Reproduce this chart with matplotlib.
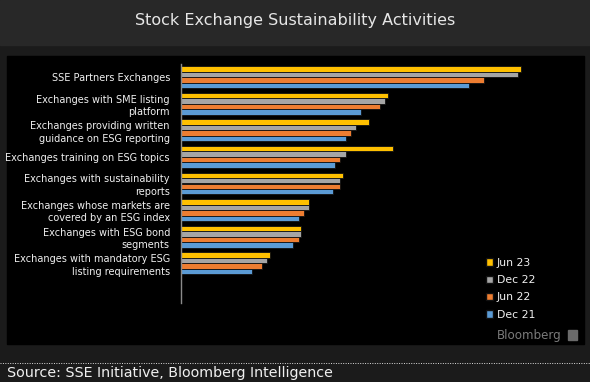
import matplotlib
matplotlib.use("Agg")
import matplotlib.pyplot as plt
from matplotlib.patches import Rectangle, Patch
from matplotlib.lines import Line2D
import numpy as np

plt.rcParams["font.family"] = ["DejaVu Sans"]

categories = [
    "SSE Partners Exchanges",
    "Exchanges with SME listing\nplatform",
    "Exchanges providing written\nguidance on ESG reporting",
    "Exchanges training on ESG topics",
    "Exchanges with sustainability\nreports",
    "Exchanges whose markets are\ncovered by an ESG index",
    "Exchanges with ESG bond\nsegments",
    "Exchanges with mandatory ESG\nlisting requirements",
]
series = ["Jun 23", "Dec 22", "Jun 22", "Dec 21"]
jun23 = [130, 79, 72, 81, 62, 49, 46, 34]
dec22 = [129, 78, 67, 63, 61, 49, 46, 33]
jun22 = [116, 76, 65, 61, 61, 47, 45, 31]
dec21 = [110, 69, 63, 59, 58, 45, 43, 27]
values = [jun23, dec22, jun22, dec21]
colors = ["#FFC000", "#A5A5A5", "#ED7D31", "#5B9BD5"]

W, H = 590, 382
fig = plt.figure(figsize=(W / 100, H / 100), dpi=100)
fig.patch.set_facecolor("#1b1b1b")

def px(x0, y0, w, h):
    # pixel box (top-left origin) -> figure fraction
    return (x0 / W, 1 - (y0 + h) / H, w / W, h / H)

# title band and black panel
fig.patches.append(Rectangle((0, 1 - 45 / H), 1, 45 / H, transform=fig.transFigure,
                             color="#282828", zorder=-2))
b = px(7, 56, 577, 288)
fig.patches.append(Rectangle(b[:2], b[2], b[3], transform=fig.transFigure,
                             color="#000000", zorder=-2))

fig.text(0.5, 1 - 20 / H, "Stock Exchange Sustainability Activities", ha="center", va="center",
         color="#e6e6e6", fontsize=11.5)

ax = fig.add_axes(px(181, 64, 359, 239))
ax.set_zorder(1)
ax.set_facecolor("none")
y = np.arange(len(categories))
h = 0.207
for i, (vals, c, s) in enumerate(zip(values, colors, series)):
    ax.barh(y + (i - 1.5) * h, vals, height=h, color=c, edgecolor="#111111", linewidth=0.6, label=s)

ax.set_xlim(0, 137.3)
ax.set_ylim(8.5, -0.5)
ax.set_yticks(y)
ax.set_yticklabels(categories, fontsize=7, color="#f0f0f0", linespacing=1.3)
ax.tick_params(axis="y", length=0, pad=8)
ax.set_xticks([])
for sp in ["top", "right", "bottom"]:
    ax.spines[sp].set_visible(False)
ax.spines["left"].set_color("#8a8a8a")
ax.spines["left"].set_linewidth(1)

handles = [Patch(facecolor=c, edgecolor="#111111", label=s) for c, s in zip(colors, series)]
leg = fig.legend(handles=handles, loc="upper left", bbox_to_anchor=(476 / W, 1 - 248 / H),
                 frameon=False, fontsize=7.8, labelcolor="#f0f0f0", handlelength=0.7,
                 handleheight=0.7, handletextpad=0.3, labelspacing=0.68)
leg.set_zorder(2)

fig.text(562 / W, 1 - 335 / H, "Bloomberg", ha="right", va="center", color="#7a7a7a", fontsize=8.6)
fig.patches.append(Rectangle((568 / W, 1 - 340 / H), 9 / W, 10 / H, transform=fig.transFigure,
                             color="#6a6a6a", zorder=1))

fig.add_artist(Line2D([0, 1], [1 - 363 / H] * 2, transform=fig.transFigure, color="#dddddd",
                      linestyle=(0, (1, 1.5)), linewidth=0.7))
fig.text(7 / W, 1 - 373 / H, "Source: SSE Initiative, Bloomberg Intelligence", ha="left",
         va="center", color="#f0f0f0", fontsize=10.3)

fig.savefig("out.png", dpi=100, facecolor=fig.get_facecolor())
